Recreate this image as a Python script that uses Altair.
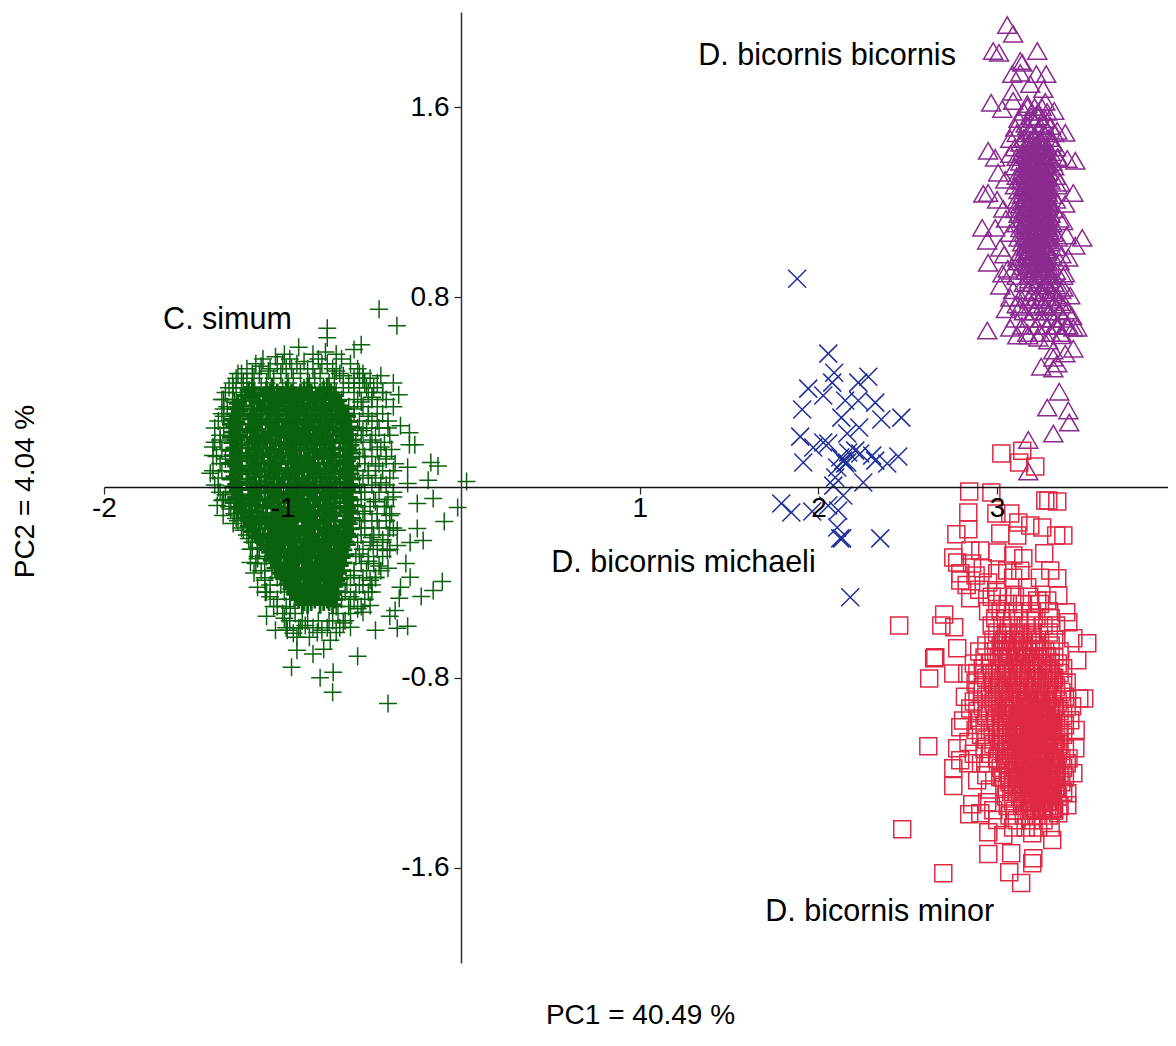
import altair as alt
import pandas as pd

GREEN_SCATTER = [(-0.46,0.75),(-0.36,0.68),(-0.75,0.67),(-0.75,0.63),(-0.76,0.57),(-0.91,0.59),(-0.60,0.58),(-0.56,0.60),(-1.25,0.48),(-1.04,0.55),(-0.45,0.47),(-0.57,0.48),(-0.55,0.46),(-0.38,0.44),(-0.35,0.39),(-0.44,0.40),(-0.38,0.34),(-0.34,0.26),(-0.29,0.23),(-0.26,0.18),(-0.29,0.18),(-0.41,0.25),(-0.17,0.105),(-0.13,0.09),(-0.30,0.085),(0.03,0.025),(-0.185,0.03),(-0.30,0.017),(-0.157,-0.046),(-0.02,-0.084),(-0.38,-0.04),(-0.246,-0.067),(-1.38,0.25),(-1.39,0.17),(-1.39,0.135),(-1.405,0.06),(-1.33,0.37),(-1.277,0.42),(-1.17,0.48),(-1.33,0.30),(-0.095,-0.143),(-0.213,-0.223),(-0.246,-0.172),(-0.31,-0.32),(-0.286,-0.378),(-0.106,-0.395),(-0.157,-0.433),(-0.224,-0.458),(-0.34,-0.42),(-0.347,-0.466),(-0.37,-0.517),(-0.30,-0.584),(-0.358,-0.592),(-0.40,-0.542),(-0.48,-0.60),(-0.41,-0.908),(-0.72,-0.861),(-0.79,-0.80),(-0.717,-0.777),(-0.95,-0.756),(-0.58,-0.71),(-0.83,-0.70),(-0.77,-0.68),(-0.92,-0.685),(-1.09,-0.542),(-1.04,-0.60),(-0.974,-0.60),(-0.733,-0.643),(-1.18,-0.315),(-1.19,-0.214),(-1.14,-0.42),(-0.62,-0.588),(-0.957,-0.508),(-0.94,-0.613),(-0.806,-0.61),(-0.873,-0.58),(-1.097,-0.441),(-0.55,-0.525),(-0.51,-0.496),(-0.414,-0.265),(-0.358,-0.18),(-0.358,-0.244),(-0.286,-0.231),(-0.493,-0.244),(-0.40,-0.118),(-0.51,-0.39),(-0.48,-0.378),(-1.338,-0.055),(-1.366,-0.076),(-1.333,-0.118),(-1.277,-0.151),(-1.142,-0.252),
(-1.12,0.51),(-1.08,0.49),(-1.0,0.52),(-0.95,0.5),(-0.88,0.53),(-0.83,0.5),(-0.78,0.52),(-0.7,0.49),(-0.66,0.47),(-0.6,0.44),(-0.53,0.42),(-0.5,0.38),(-0.56,0.36),(-0.6,0.33),(-0.52,0.3),(-0.47,0.28),(-0.55,0.24),(-0.5,0.2),(-0.45,0.17),(-0.54,0.13),(-0.48,0.09),(-0.42,0.12),(-0.38,0.07),(-0.52,0.05),(-0.45,0.02),(-0.56,-0.02),(-0.48,-0.06),(-0.42,-0.08),(-0.54,-0.1),(-0.47,-0.14),(-0.4,-0.17),(-0.56,-0.17),(-0.5,-0.21),(-0.44,-0.22),(-0.57,-0.28),(-0.52,-0.31),(-0.46,-0.33),(-0.41,-0.34),(-0.6,-0.37),(-0.55,-0.41),(-0.5,-0.44),(-0.62,-0.46),(-0.58,-0.51),(-1.22,0.44),(-1.27,0.36),(-1.33,0.33),(-1.3,0.25),(-1.35,0.2),(-1.32,0.12),(-1.34,0.07),(-1.36,0.0),(-1.32,-0.03),(-1.29,-0.09),(-1.26,-0.13),(-1.22,-0.18),(-1.17,-0.26),(-1.14,-0.3),(-1.16,-0.36),(-1.1,-0.39),(-1.07,-0.46),(-1.03,-0.5),(-0.99,-0.55),(-0.91,-0.59),(-0.85,-0.63),(-0.78,-0.6),(-0.7,-0.61),(-0.66,-0.57),(-0.92,-0.63),(-0.86,-0.56),(-0.74,-0.56)]

GREEN_SHELL = [
(0.56,[-0.99,-0.83,-0.7]),(0.54,[-1.11,-0.96,-0.8,-0.67]),(0.52,[-1.15,-1.03,-0.92,-0.75,-0.62]),(0.50,[-1.2,-1.07,-0.98,-0.86,-0.72,-0.58]),(0.48,[-1.23,-1.13,-1.01,-0.9,-0.79,-0.68,-0.55]),(0.46,[-1.26,-1.16,-1.05,-0.94,-0.82,-0.71,-0.6,-0.51]),(0.44,[-1.28,-1.2,-1.09,-0.97,-0.85,-0.74,-0.63,-0.54,-0.47]),(0.42,[-1.3,-1.23,-1.12,-1.0,-0.88,-0.77,-0.66,-0.57,-0.49]),(0.40,[-1.32,-1.26,-0.7,-0.6,-0.52,-0.44]),(0.37,[-1.34,-1.28,-0.67,-0.58,-0.5,-0.42]),(0.34,[-1.31,-0.63,-0.55,-0.47]),(0.31,[-1.34,-0.6,-0.52,-0.44]),(0.28,[-1.36,-0.57,-0.5,-0.41]),(0.25,[-1.33,-0.58,-0.53,-0.46]),(0.22,[-1.35,-0.56,-0.48,-0.4]),(0.19,[-1.38,-0.59,-0.51,-0.43]),(0.16,[-1.34,-0.55,-0.47,-0.39]),(0.13,[-1.37,-0.57,-0.5,-0.42]),(0.1,[-1.35,-0.54,-0.46,-0.37]),(0.07,[-1.39,-0.58,-0.52,-0.44]),(0.04,[-1.36,-0.55,-0.48,-0.4]),(0.01,[-1.38,-0.57,-0.5,-0.42]),(-0.02,[-1.35,-0.54,-0.46,-0.38]),(-0.05,[-1.33,-0.56,-0.49,-0.41]),(-0.08,[-1.3,-0.58,-0.51,-0.43]),(-0.11,[-1.27,-0.55,-0.47,-0.39]),(-0.14,[-1.25,-0.57,-0.5,-0.42]),(-0.17,[-1.23,-0.54,-0.46,-0.38]),(-0.2,[-1.2,-1.15,-0.56,-0.49,-0.41]),(-0.23,[-1.17,-0.58,-0.51,-0.44]),(-0.26,[-1.18,-1.13,-0.55,-0.47,-0.4]),(-0.29,[-1.14,-1.09,-0.59,-0.52,-0.44]),(-0.32,[-1.15,-1.1,-0.56,-0.49]),(-0.35,[-1.12,-1.06,-0.6,-0.53,-0.45]),(-0.38,[-1.1,-1.03,-0.62,-0.55,-0.48]),(-0.41,[-1.07,-1.01,-0.64,-0.57,-0.5]),(-0.44,[-1.09,-0.99,-0.65,-0.59,-0.52]),(-0.47,[-1.03,-0.96,-0.67,-0.6,-0.54]),(-0.5,[-1.05,-0.98,-0.7,-0.63,-0.56]),(-0.53,[-1.0,-0.93,-0.69,-0.62]),(-0.56,[-0.96,-0.89,-0.8,-0.72,-0.65]),(-0.59,[-0.98,-0.9,-0.83,-0.75,-0.68]),
]

GREEN_CORE = [
(0.420,[-1.17,-1.06,-0.97,-0.86,-0.75]),(0.409,[-1.19,-1.09,-0.98,-0.88,-0.77]),(0.398,[-1.16,-1.07,-0.95,-0.84,-0.73]),
(0.387,[-1.21,-1.11,-1.01,-0.91,-0.8,-0.71]),(0.376,[-1.18,-1.05,-0.96,-0.85,-0.74]),(0.365,[-1.23,-1.13,-1.02,-0.93,-0.82,-0.69]),
(0.354,[-1.25,-1.14,-1.04,-0.94,-0.83,-0.72]),(0.343,[-1.22,-1.1,-0.99,-0.89,-0.78,-0.68]),(0.332,[-1.26,-1.16,-1.06,-0.96,-0.86,-0.76,-0.66]),
(0.321,[-1.24,-1.12,-1.03,-0.92,-0.81,-0.7]),(0.310,[-1.27,-1.17,-1.08,-0.97,-0.87,-0.75,-0.65]),(0.299,[-1.25,-1.15,-1.04,-0.94,-0.84,-0.73,-0.64]),
(0.288,[-1.28,-1.18,-1.09,-0.98,-0.88,-0.79,-0.67]),(0.277,[-1.26,-1.13,-1.02,-0.92,-0.82,-0.72,-0.63]),(0.266,[-1.29,-1.19,-1.07,-0.96,-0.86,-0.76,-0.66]),
(0.255,[-1.27,-1.16,-1.05,-0.95,-0.83,-0.74,-0.62]),(0.244,[-1.24,-1.14,-1.03,-0.93,-0.8,-0.7,-0.64]),(0.233,[-1.28,-1.18,-1.08,-0.99,-0.89,-0.78,-0.67]),
(0.222,[-1.25,-1.12,-1.01,-0.91,-0.85,-0.75,-0.63]),(0.211,[-1.29,-1.2,-1.1,-0.97,-0.87,-0.77,-0.65]),(0.200,[-1.26,-1.15,-1.06,-0.94,-0.82,-0.72,-0.61]),
(0.189,[-1.28,-1.17,-1.04,-0.92,-0.84,-0.74,-0.66]),(0.178,[-1.23,-1.13,-1.02,-0.98,-0.88,-0.79,-0.62]),(0.167,[-1.27,-1.19,-1.09,-0.95,-0.86,-0.71,-0.64]),
(0.156,[-1.29,-1.16,-1.05,-0.93,-0.81,-0.76,-0.63]),(0.145,[-1.25,-1.14,-1.07,-0.96,-0.83,-0.73,-0.61]),(0.134,[-1.28,-1.2,-1.11,-1.0,-0.9,-0.78,-0.66]),
(0.123,[-1.24,-1.15,-1.03,-0.92,-0.85,-0.75,-0.62]),(0.112,[-1.27,-1.18,-1.08,-0.97,-0.87,-0.7,-0.64]),(0.101,[-1.29,-1.12,-1.01,-0.94,-0.82,-0.77,-0.65]),
(0.090,[-1.26,-1.17,-1.06,-0.91,-0.84,-0.72,-0.61]),(0.079,[-1.23,-1.14,-1.04,-0.98,-0.88,-0.74,-0.63]),(0.068,[-1.28,-1.19,-1.1,-0.95,-0.86,-0.79,-0.66]),
(0.057,[-1.25,-1.16,-1.02,-0.93,-0.81,-0.71,-0.62]),(0.046,[-1.27,-1.13,-1.07,-0.96,-0.83,-0.76,-0.64]),(0.035,[-1.29,-1.2,-1.05,-0.99,-0.89,-0.73,-0.61]),
(0.024,[-1.24,-1.15,-1.09,-0.92,-0.85,-0.78,-0.65]),(0.013,[-1.26,-1.18,-1.03,-0.97,-0.87,-0.7,-0.63]),(0.002,[-1.28,-1.12,-1.01,-0.94,-0.82,-0.75,-0.62]),
(-0.009,[-1.25,-1.17,-1.06,-0.91,-0.84,-0.72,-0.64]),(-0.020,[-1.27,-1.14,-1.08,-0.98,-0.88,-0.77,-0.61]),(-0.031,[-1.23,-1.19,-1.04,-0.95,-0.86,-0.74,-0.66]),
(-0.042,[-1.26,-1.16,-1.02,-0.93,-0.81,-0.71,-0.63]),(-0.053,[-1.24,-1.13,-1.07,-0.96,-0.83,-0.79,-0.62]),(-0.064,[-1.27,-1.18,-1.05,-0.99,-0.89,-0.73,-0.65]),
(-0.075,[-1.22,-1.15,-1.09,-0.92,-0.85,-0.76,-0.61]),(-0.086,[-1.25,-1.11,-1.03,-0.97,-0.87,-0.7,-0.64]),(-0.097,[-1.21,-1.17,-1.01,-0.94,-0.82,-0.75,-0.63]),
(-0.108,[-1.23,-1.14,-1.06,-0.91,-0.84,-0.72,-0.62]),(-0.119,[-1.19,-1.09,-0.98,-0.88,-0.77,-0.65]),(-0.130,[-1.21,-1.12,-1.04,-0.95,-0.86,-0.74,-0.61]),
(-0.141,[-1.18,-1.07,-1.0,-0.93,-0.81,-0.71,-0.64]),(-0.152,[-1.16,-1.1,-1.02,-0.96,-0.83,-0.79,-0.63]),(-0.163,[-1.19,-1.05,-0.99,-0.89,-0.73,-0.66]),
(-0.174,[-1.15,-1.08,-0.97,-0.92,-0.85,-0.76,-0.62]),(-0.185,[-1.17,-1.03,-0.94,-0.87,-0.7,-0.65]),(-0.196,[-1.13,-1.06,-1.01,-0.91,-0.82,-0.75,-0.64]),
(-0.207,[-1.14,-1.04,-0.98,-0.84,-0.72,-0.63]),(-0.218,[-1.11,-1.02,-0.95,-0.88,-0.77,-0.66]),(-0.229,[-1.12,-1.05,-0.93,-0.86,-0.74,-0.65]),
(-0.240,[-1.09,-1.0,-0.96,-0.81,-0.71,-0.64]),(-0.251,[-1.08,-1.03,-0.89,-0.83,-0.79,-0.67]),(-0.262,[-1.06,-0.99,-0.92,-0.85,-0.73,-0.66]),
(-0.273,[-1.07,-1.01,-0.97,-0.87,-0.76,-0.68]),(-0.284,[-1.05,-0.94,-0.82,-0.7,-0.65]),(-0.295,[-1.04,-0.98,-0.91,-0.84,-0.75,-0.67]),
(-0.306,[-1.06,-0.95,-0.88,-0.77,-0.69]),(-0.317,[-1.03,-0.93,-0.86,-0.72,-0.66]),(-0.328,[-1.02,-0.96,-0.81,-0.74,-0.68]),
(-0.339,[-1.04,-0.99,-0.89,-0.79,-0.7]),(-0.350,[-1.0,-0.92,-0.83,-0.73,-0.67]),(-0.361,[-1.01,-0.94,-0.85,-0.76,-0.69]),
(-0.372,[-0.98,-0.87,-0.8,-0.71]),(-0.383,[-0.99,-0.91,-0.82,-0.75,-0.68]),(-0.394,[-0.96,-0.84,-0.77,-0.7]),
(-0.405,[-0.97,-0.88,-0.72,-0.69]),(-0.416,[-0.94,-0.86,-0.79,-0.71]),(-0.427,[-0.95,-0.9,-0.81,-0.74]),
(-0.438,[-0.92,-0.83,-0.76,-0.7]),(-0.449,[-0.93,-0.85,-0.78,-0.72]),(-0.460,[-0.9,-0.87,-0.8,-0.73]),
(-0.471,[-0.91,-0.82,-0.75,-0.71]),(-0.482,[-0.88,-0.84,-0.77,-0.74]),(-0.493,[-0.89,-0.86,-0.79,-0.72]),
# denser middle of the solid core
(0.40,[-1.03,-0.9,-0.79]),(0.37,[-1.0,-0.88,-0.77]),(0.34,[-1.08,-0.95,-0.81,-0.7]),(0.31,[-1.02,-0.91,-0.78]),(0.28,[-1.12,-0.94,-0.84,-0.7]),(0.25,[-1.0,-0.88,-0.78,-0.68]),(0.22,[-1.06,-0.95,-0.8,-0.7]),(0.19,[-1.11,-0.98,-0.87,-0.77]),(0.16,[-1.01,-0.9,-0.79,-0.68]),(0.13,[-1.07,-0.94,-0.86,-0.72]),
(0.10,[-1.03,-0.9,-0.8,-0.68]),(0.07,[-1.08,-0.92,-0.83,-0.76]),(0.04,[-1.0,-0.91,-0.79,-0.68]),(0.01,[-1.1,-0.96,-0.86,-0.78]),(-0.02,[-1.02,-0.93,-0.81,-0.7]),(-0.05,[-1.1,-0.91,-0.85,-0.76]),(-0.08,[-1.05,-0.9,-0.8,-0.68]),(-0.11,[-1.0,-0.95,-0.87,-0.78]),(-0.14,[-1.12,-0.98,-0.84,-0.76]),(-0.17,[-1.02,-0.94,-0.8,-0.68]),
(-0.20,[-0.97,-0.87,-0.78,-0.69]),(-0.23,[-0.99,-0.9,-0.8,-0.7]),(-0.26,[-0.95,-0.87,-0.76,-0.7]),(-0.29,[-0.99,-0.88,-0.79,-0.71]),(-0.32,[-0.97,-0.84,-0.76]),(-0.35,[-0.95,-0.87,-0.78]),(-0.38,[-0.93,-0.84,-0.76]),(-0.41,[-0.91,-0.83,-0.75]),(-0.44,[-0.88,-0.81,-0.74]),
]

BLUE_POINTS = [(1.881,0.878),(2.055,0.563),(2.088,0.483),(2.077,0.441),(2.027,0.387),(1.943,0.416),(1.909,0.328),(2.279,0.466),(2.223,0.441),(2.150,0.366),(2.223,0.366),(2.318,0.357),(2.352,0.286),(2.464,0.294),(2.128,0.294),(2.228,0.252),(2.161,0.227),(1.898,0.214),(1.971,0.168),(2.027,0.189),(2.055,0.185),(1.915,0.105),(2.206,0.155),(2.167,0.147),(2.139,0.113),(2.15,0.101),(2.161,0.105),(2.234,0.143),(2.301,0.134),(2.385,0.101),(2.447,0.13),(2.251,0.021),(2.094,0.042),(2.083,0.008),(2.139,-0.034),(2.055,-0.076),(2.111,-0.097),(1.792,-0.067),(1.848,-0.105),(1.965,-0.101),(2.105,-0.168),(2.133,-0.214),(2.122,-0.214),(2.346,-0.214),(2.178,-0.462),(2.105,0.084),(2.122,0.126),(2.318,0.113)]

PURPLE_SCATTER = [(3.057,1.945),(3.09,1.908),(2.978,1.836),(3.011,1.828),(3.225,1.836),(3.13,1.794),(3.141,1.786),(3.085,1.739),(3.22,1.739),(3.275,1.739),(3.13,1.744),(3.186,1.697),(3.259,1.676),(3.085,1.664),(2.967,1.618),(3.029,1.592),(3.27,1.622),(3.32,1.584),(3.09,1.626),(3.169,1.613),(3.382,1.492),(3.337,1.5),(3.074,1.466),(3.102,1.513),(2.95,1.416),(2.989,1.387),(3.438,1.374),(3.393,1.382),(3.337,1.387),(3.074,1.403),(3.006,1.324),(3.046,1.294),(3.354,1.282),(3.427,1.239),(3.382,1.193),(2.923,1.235),(2.95,1.239),(3.0,1.21),(3.035,1.172),(2.917,1.092),(2.99,1.092),(2.945,1.038),(3.018,1.008),(2.95,0.945),(3.477,1.05),(3.438,1.017),(3.399,0.966),(3.113,0.966),(3.085,0.912),(3.018,0.849),(3.074,0.798),(3.41,0.807),(3.371,0.84),(3.427,0.672),(3.449,0.672),(3.393,0.744),(2.945,0.66),(3.102,0.71),(3.074,0.672),(3.113,0.639),(3.175,0.639),(3.231,0.63),(3.287,0.618),(3.315,0.576),(3.382,0.563),(3.427,0.584),(3.247,0.508),(3.315,0.546),(3.315,0.5),(3.337,0.521),(3.348,0.403),(3.281,0.336),(3.399,0.324),(3.404,0.273),(3.315,0.227),(3.175,0.2),(3.175,0.067),
(3.05,1.13),(3.07,1.07),(3.04,0.98),(3.06,0.92),(3.03,0.9),(3.05,0.75),(3.13,0.76),(3.37,1.12),(3.39,1.06),(3.36,0.98),(3.38,0.9),(3.35,0.78),(3.42,0.72),(3.39,0.68),(3.36,0.64),(3.33,0.68)]

PURPLE_ROWS = [
(1.58,[3.15,3.23,3.28]),(1.55,[3.12,3.2,3.27]),(1.52,[3.17,3.24,3.3]),(1.49,[3.11,3.19,3.26,3.32]),(1.47,[3.15,3.22,3.29]),(1.45,[3.13,3.18,3.25,3.31]),
(1.43,[3.1,3.16,3.23,3.28,3.33]),(1.41,[3.14,3.2,3.26,3.3]),(1.39,[3.11,3.17,3.22,3.29,3.34]),(1.37,[3.13,3.19,3.24,3.31]),(1.35,[3.1,3.15,3.21,3.27,3.32]),(1.33,[3.14,3.18,3.23,3.29]),
(1.31,[3.11,3.16,3.2,3.26,3.33]),(1.29,[3.13,3.19,3.25,3.3]),(1.27,[3.1,3.15,3.22,3.27,3.34]),(1.25,[3.12,3.17,3.21,3.28]),(1.23,[3.14,3.19,3.24,3.31]),(1.21,[3.11,3.16,3.22,3.26,3.33]),
(1.19,[3.13,3.18,3.23,3.29]),(1.17,[3.1,3.15,3.2,3.27,3.32]),(1.15,[3.12,3.17,3.22,3.25,3.3]),(1.13,[3.14,3.19,3.24,3.28,3.35]),(1.11,[3.11,3.16,3.21,3.26,3.31]),(1.09,[3.13,3.18,3.23,3.29]),
(1.07,[3.15,3.2,3.25,3.32]),(1.05,[3.12,3.17,3.22,3.27,3.34]),(1.03,[3.14,3.19,3.24,3.3]),(1.01,[3.16,3.21,3.26,3.33]),(0.99,[3.13,3.18,3.23,3.28]),(0.97,[3.15,3.2,3.25,3.31]),
(0.95,[3.12,3.17,3.22,3.27,3.35]),(0.93,[3.14,3.19,3.24,3.3]),(0.91,[3.16,3.21,3.26,3.33]),(0.89,[3.11,3.18,3.23,3.29,3.37]),(0.86,[3.15,3.2,3.27,3.32]),(0.83,[3.09,3.17,3.24,3.3,3.36]),
(0.80,[3.13,3.22,3.28,3.34]),(0.77,[3.11,3.19,3.26,3.32,3.38]),(0.74,[3.15,3.21,3.29,3.35]),(0.71,[3.18,3.25,3.31,3.37]),(0.68,[3.14,3.22,3.28,3.34,3.4]),(0.65,[3.17,3.24,3.3,3.36]),
(1.60,[3.17,3.21,3.25]),(1.56,[3.19,3.23]),(1.53,[3.16,3.21,3.26]),(1.50,[3.18,3.23,3.28]),(0.90,[3.2,3.25,3.31]),(0.875,[3.18,3.23,3.29]),(0.85,[3.22,3.27,3.33]),(0.82,[3.2,3.26,3.31]),(0.79,[3.18,3.24,3.3]),(0.76,[3.22,3.27,3.33]),
]

PURPLE_CORE = [
(1.46,[3.19,3.24]),(1.44,[3.17,3.22,3.26]),(1.42,[3.18,3.23,3.27]),(1.40,[3.16,3.21,3.25,3.28]),(1.38,[3.18,3.22,3.27]),(1.36,[3.16,3.2,3.24,3.28]),(1.34,[3.17,3.22,3.26]),(1.32,[3.15,3.19,3.23,3.27]),(1.30,[3.17,3.21,3.25,3.28]),(1.28,[3.16,3.2,3.24,3.27]),
(1.26,[3.15,3.19,3.23,3.26,3.29]),(1.24,[3.17,3.21,3.25,3.28]),(1.22,[3.16,3.2,3.24,3.27]),(1.20,[3.15,3.18,3.22,3.26,3.29]),(1.18,[3.17,3.21,3.24,3.28]),(1.16,[3.16,3.19,3.23,3.27]),(1.14,[3.17,3.2,3.25,3.29]),(1.12,[3.16,3.21,3.24,3.28]),(1.10,[3.17,3.2,3.23,3.27]),(1.08,[3.18,3.22,3.26,3.29]),
(1.06,[3.16,3.2,3.24,3.28]),(1.04,[3.18,3.21,3.25,3.28]),(1.02,[3.17,3.22,3.26]),(1.00,[3.18,3.21,3.24,3.28]),(0.98,[3.17,3.2,3.25]),(0.96,[3.19,3.23,3.27]),(0.94,[3.18,3.22,3.26]),(0.92,[3.2,3.24,3.28]),
]

RED_SCATTER = [(3.024,0.143),(3.141,0.155),(3.124,0.105),(3.214,0.088),(2.844,-0.017),(2.968,-0.021),(3.27,-0.055),(3.287,-0.055),(3.337,-0.059),(2.839,-0.105),(2.996,-0.109),(3.074,-0.109),(2.839,-0.176),(2.772,-0.197),(3.119,-0.147),(3.186,-0.16),(3.253,-0.168),(3.331,-0.202),(3.371,-0.202),(3.018,-0.193),(3.113,-0.202),(3.264,-0.277),(2.755,-0.294),(2.777,-0.315),(2.85,-0.265),(2.906,-0.265),(3.001,-0.273),(3.091,-0.286),(3.147,-0.298),(3.298,-0.349),(3.337,-0.382),(2.794,-0.361),(2.794,-0.391),(2.85,-0.466),(3.343,-0.454),(3.387,-0.525),(2.704,-0.534),(2.688,-0.58),(2.76,-0.588),(2.452,-0.58),(3.399,-0.567),(3.427,-0.634),(3.505,-0.655),(2.777,-0.676),(2.654,-0.714),(3.186,-0.559),(3.225,-0.475),(3.281,-0.475),(3.169,-0.42),(3.001,-0.361),(3.057,-0.349),(2.648,-0.718),(2.62,-0.803),(2.755,-0.782),(2.833,-0.782),(3.46,-0.887),(3.488,-0.887),(3.449,-0.727),(2.794,-1.008),(2.615,-1.088),(2.777,-1.097),(3.438,-1.097),(3.427,-1.202),(2.755,-1.181),(2.755,-1.256),(2.889,-1.231),(2.794,-1.147),(2.839,-1.16),(3.018,-1.218),(2.945,-1.324),(2.861,-1.332),(2.844,-1.374),(2.906,-1.37),(2.979,-1.357),(3.001,-1.399),(2.469,-1.437),(2.951,-1.45),(3.035,-1.462),(3.309,-1.483),(3.197,-1.454),(2.951,-1.542),(3.079,-1.538),(3.203,-1.559),(3.197,-1.58),(2.699,-1.622),(3.068,-1.618),(3.135,-1.664),(3.393,-1.286),(3.393,-1.336),(3.343,-1.37),(3.41,-0.979),
(2.86,-0.32),(2.88,-0.37),(2.83,-0.41),(2.9,-0.43),(2.92,-0.34),(2.95,-0.4),(3.0,-0.44),(3.09,-0.38),(3.13,-0.35),(3.24,-0.38),(2.82,-0.88),(2.85,-0.93),(2.81,-0.98),(2.88,-1.02),(2.84,-1.07),(2.87,-1.12),(2.91,-1.16),(2.94,-1.21),(2.96,-1.27),(3.39,-0.82),(3.42,-0.92),(3.44,-1.02),(3.4,-1.14)]

RED_ROWS = [
(-0.46,[2.97,3.03,3.1,3.18]),(-0.49,[3.0,3.06,3.14,3.24]),(-0.52,[2.95,3.02,3.09,3.19,3.29]),(-0.55,[2.99,3.05,3.12,3.22,3.3]),(-0.58,[2.97,3.03,3.08,3.16,3.26,3.33]),
(-0.61,[3.0,3.06,3.13,3.2,3.29]),(-0.64,[2.98,3.04,3.1,3.17,3.24,3.32]),(-0.665,[2.94,3.02,3.08,3.14,3.21,3.3]),(-0.69,[2.9,2.98,3.05,3.12,3.19,3.27,3.35]),(-0.715,[2.93,3.01,3.07,3.15,3.23,3.32]),
(-0.74,[2.87,2.96,3.04,3.11,3.18,3.26,3.34]),(-0.76,[2.92,3.0,3.08,3.14,3.22,3.3,3.37]),(-0.78,[2.89,2.97,3.05,3.12,3.2,3.28,3.35]),(-0.80,[2.94,3.02,3.09,3.16,3.24,3.32]),(-0.82,[2.88,2.98,3.06,3.13,3.21,3.29,3.37]),
(-0.84,[2.92,3.0,3.1,3.18,3.25,3.33]),(-0.86,[2.89,2.96,3.04,3.12,3.2,3.28,3.36]),(-0.88,[2.94,3.02,3.08,3.16,3.23,3.31,3.38]),(-0.90,[2.87,2.98,3.06,3.14,3.21,3.27,3.34]),(-0.92,[2.92,3.0,3.1,3.18,3.25,3.32,3.39]),
(-0.94,[2.89,2.96,3.05,3.13,3.2,3.28,3.35]),(-0.96,[2.94,3.03,3.08,3.16,3.23,3.3,3.37]),(-0.98,[2.9,2.99,3.06,3.14,3.21,3.27,3.33]),(-1.0,[2.93,3.02,3.11,3.18,3.25,3.31,3.38]),(-1.02,[2.96,3.05,3.13,3.2,3.28,3.35]),
(-1.04,[2.91,3.0,3.08,3.16,3.23,3.3,3.37]),(-1.06,[2.94,3.03,3.11,3.19,3.26,3.33]),(-1.08,[2.98,3.06,3.14,3.21,3.28,3.35]),(-1.10,[2.93,3.01,3.09,3.17,3.24,3.31,3.38]),(-1.12,[2.96,3.04,3.12,3.2,3.27,3.34]),
(-1.14,[3.0,3.07,3.15,3.22,3.29,3.36]),(-1.16,[2.95,3.05,3.13,3.19,3.26,3.33,3.39]),(-1.18,[3.02,3.1,3.17,3.24,3.31,3.37]),(-1.20,[3.06,3.14,3.21,3.28,3.35]),(-1.22,[3.03,3.11,3.18,3.25,3.32,3.38]),
(-1.24,[3.07,3.15,3.22,3.29,3.36]),(-1.26,[3.04,3.12,3.19,3.26,3.33]),(-1.28,[3.08,3.16,3.23,3.3,3.37]),(-1.30,[3.05,3.13,3.2,3.27,3.34]),(-1.32,[3.09,3.17,3.24,3.31]),
(-1.34,[3.06,3.14,3.21,3.28,3.35]),(-1.36,[3.1,3.18,3.25,3.32]),(-1.38,[3.07,3.15,3.22,3.29]),(-1.40,[3.11,3.19,3.26]),(-1.43,[3.09,3.16,3.23,3.3]),
]

RED_MID = [
(-0.62,[3.05,3.12,3.19]),(-0.65,[3.03,3.09,3.15,3.22]),(-0.68,[3.06,3.11,3.17,3.24]),(-0.71,[3.03,3.1,3.16,3.21,3.28]),(-0.74,[3.06,3.13,3.19,3.25,3.3]),(-0.77,[3.02,3.09,3.16,3.23,3.29]),(-0.80,[3.05,3.12,3.18,3.26,3.31]),(-0.83,[3.01,3.08,3.15,3.22,3.28]),(-0.86,[3.04,3.11,3.17,3.24,3.31]),(-0.89,[3.0,3.07,3.13,3.2,3.27]),
(-0.92,[3.04,3.09,3.13]),(-0.95,[3.02,3.07,3.12]),(-0.98,[3.05,3.1,3.13]),(-1.01,[3.03,3.08,3.12]),(-1.04,[3.06,3.1,3.14]),(-1.07,[3.02,3.08,3.13]),(-1.10,[3.05,3.11,3.15]),(-1.13,[3.08,3.13]),(-1.16,[3.06,3.11,3.15]),(-1.19,[3.09,3.13]),(-1.22,[3.07,3.12,3.16]),(-1.25,[3.09,3.14]),(-1.28,[3.11,3.15]),
]

RED_CORE = [
(-0.90,[3.16,3.22,3.27]),(-0.93,[3.19,3.24,3.3]),(-0.96,[3.15,3.21,3.27]),(-0.99,[3.18,3.24,3.29]),(-1.02,[3.15,3.2,3.26,3.31]),(-1.05,[3.18,3.23,3.28]),(-1.08,[3.16,3.21,3.27,3.32]),(-1.11,[3.19,3.24,3.29]),(-1.14,[3.17,3.22,3.27,3.32]),(-1.17,[3.19,3.25,3.3]),
(-1.20,[3.17,3.23,3.28,3.33]),(-1.23,[3.2,3.25,3.3]),(-1.26,[3.18,3.23,3.28,3.33]),(-1.29,[3.2,3.26,3.31]),(-1.32,[3.19,3.24,3.29]),(-1.35,[3.21,3.26,3.31]),
]

LABELS = ["C. simum", "D. bicornis bicornis", "D. bicornis michaeli", "D. bicornis minor"]
LABEL_X = [-1.669, 1.327, 0.504, 1.702]
LABEL_Y = [0.706, 1.815, -0.319, -1.786]
X_TICKS = [-2, -1, 1, 2, 3]
Y_TICKS = [1.6, 0.8, -0.8, -1.6]
FONT = "Liberation Sans"


def flatten(scatter, rows):
    pts = list(scatter)
    for y, xs in rows:
        pts.extend((x, y) for x in xs)
    return pd.DataFrame(pts, columns=["x", "y"])


x_scale = alt.Scale(domain=[-2, 3.957], nice=False, zero=False)
y_scale = alt.Scale(domain=[-2, 2], nice=False, zero=False)
x_axis = alt.Axis(values=X_TICKS, labelExpr="'' + datum.value", grid=False, orient="bottom", offset=-476, zindex=1,
                  domainColor="#111111", domainWidth=1.5, tickColor="#222222", tickWidth=1.2, tickSize=7,
                  labelFont=FONT, labelFontSize=28, labelColor="black", labelPadding=0, labelOverlap=False,
                  labelFlush=False, title="PC1 = 40.49 %", titleFont=FONT, titleFontSize=28, titleFontWeight="normal",
                  titleColor="black", titleX=536, titleY=528, titleBaseline="middle", titleAlign="center")
y_axis = alt.Axis(values=Y_TICKS, labelExpr="'' + datum.value", grid=False, orient="left", offset=-357, zindex=1,
                  domainColor="#333333", domainWidth=1.5, tickColor="#222222", tickWidth=1.2, tickSize=7,
                  labelFont=FONT, labelFontSize=28, labelColor="black", labelPadding=5, labelOverlap=False,
                  title="PC2 = 4.04 %", titleFont=FONT, titleFontSize=28, titleFontWeight="normal",
                  titleColor="black", titleX=-436, titleY=479, titleAngle=270, titleBaseline="middle", titleAlign="center")

PLUS = "M-1,0L1,0M0,-1L0,1"
CROSS = "M-1,-1L1,1M-1,1L1,-1"


def points(df, shape, size, color, sw=1.5):
    return alt.Chart(df).mark_point(shape=shape, size=size, filled=False, stroke=color, strokeWidth=sw, opacity=1).encode(
        x=alt.X("x:Q", scale=x_scale, axis=x_axis),
        y=alt.Y("y:Q", scale=y_scale, axis=y_axis),
    )


GREEN = "#0a620f"
PURPLE = "#8b2a90"
RED = "#de2844"
green = points(flatten(GREEN_SCATTER, GREEN_SHELL), PLUS, 324, GREEN)
green_core = points(flatten([], GREEN_CORE), PLUS, 324, GREEN, 2.8)
blue = points(flatten(BLUE_POINTS, []), CROSS, 324, "#1f2f98")
purple = points(flatten(PURPLE_SCATTER, PURPLE_ROWS), "triangle-up", 361, PURPLE)
purple_core = points(flatten([], PURPLE_CORE), "triangle-up", 361, PURPLE, 2.2)
red = points(flatten(RED_SCATTER, RED_ROWS), "square", 289, RED)
red_mid = points(flatten([], RED_MID), "square", 289, RED, 1.8)
red_core = points(flatten([], RED_CORE), "square", 289, RED, 2.8)

labels = alt.Chart(pd.DataFrame({"t": LABELS, "x": LABEL_X, "y": LABEL_Y})).mark_text(
    align="left", baseline="middle", font=FONT, fontSize=30.5, color="black"
).encode(x=alt.X("x:Q", scale=x_scale, axis=x_axis), y=alt.Y("y:Q", scale=y_scale, axis=y_axis), text="t:N")

chart = alt.layer(green, green_core, blue, purple, purple_core, red, red_mid, red_core, labels).properties(
    width=1064, height=951, autosize=alt.AutoSizeParams(type="none"),
    padding={"left": 96, "top": 4, "right": 0, "bottom": 75},
).configure_view(stroke=None)

chart.save("out.html", embed_options={"renderer": "svg", "actions": False})
